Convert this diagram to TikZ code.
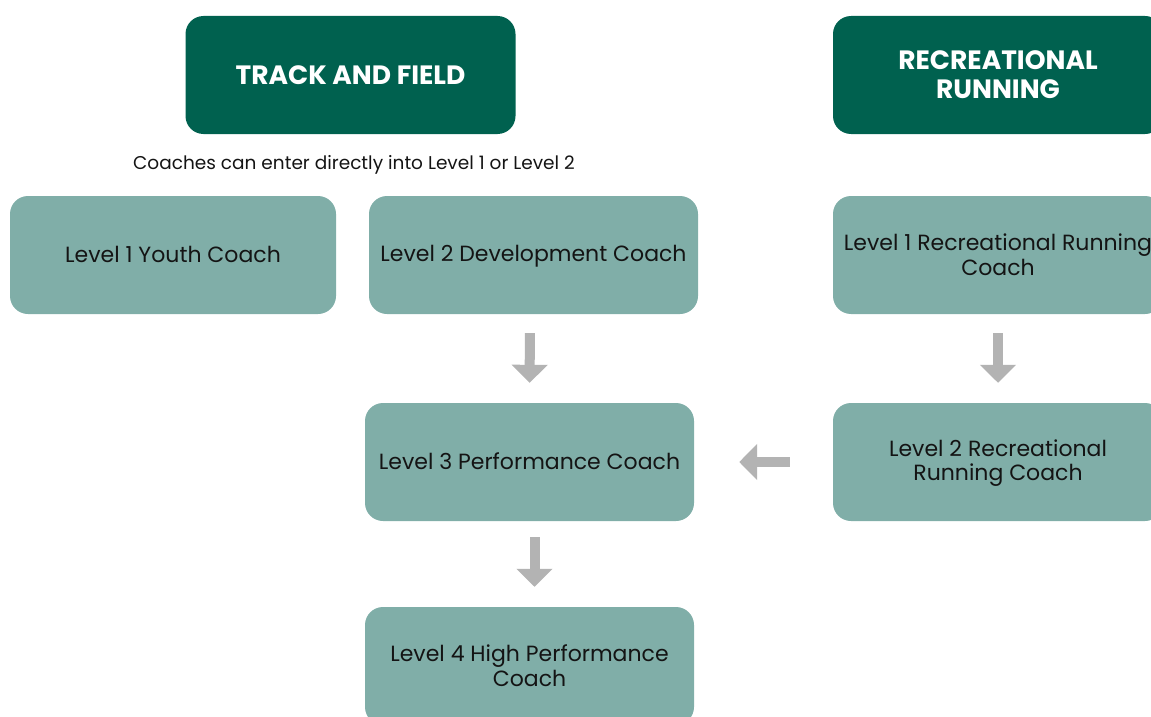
\documentclass[tikz,border=0pt]{standalone}
\usepackage{fontspec}
\setmainfont{Poppins}
\usetikzlibrary{arrows.meta}
\definecolor{dkgreen}{HTML}{00614F}
\definecolor{ltgreen}{HTML}{80AEA8}
\definecolor{arrowgray}{HTML}{B3B3B3}
\definecolor{txt}{HTML}{141414}
\newcommand\ls{\rule[-3pt]{0pt}{21.5pt}}
\newcommand\hs{\rule[-3pt]{0pt}{25pt}}
\newcommand\ns{\rule[-2pt]{0pt}{17pt}}
\tikzset{
  header/.style={fill=dkgreen, rounded corners=18pt, minimum width=330pt, minimum height=118pt,
    text=white, font=\fontsize{26.5}{29}\selectfont\bfseries, align=center, inner sep=0pt},
  levelbox/.style={fill=ltgreen, rounded corners=18pt, minimum height=118pt,
    text=txt, font=\fontsize{22}{24}\selectfont, align=center, inner sep=0pt},
  fatarrow/.style={draw=arrowgray, line width=10pt, -{Triangle[width=35pt,length=18pt]}}
}
\begin{document}
\begin{tikzpicture}[x=1pt,y=1pt]
\useasboundingbox (0,0) rectangle (1151,-717);
\clip (0,0) rectangle (1151,-717);
\node[header] (tf) at (350.5,-75) {\hs TRACK AND FIELD};
\node[header] (rr) at (998,-75) {\hs RECREATIONAL\\\hs RUNNING};
\node[font=\fontsize{18.5}{22}\selectfont, text=txt, inner sep=0pt] (note) at (354,-164) {\ns Coaches can enter directly into Level 1 or Level 2};
\node[levelbox, minimum width=326pt] (l1y) at (173,-255) {\ls Level 1 Youth Coach};
\node[levelbox, minimum width=329pt] (l2d) at (533.5,-255) {\ls Level 2 Development Coach};
\node[levelbox, minimum width=330pt] (l1r) at (998,-255) {\ls Level 1 Recreational Running\\\ls Coach};
\node[levelbox, minimum width=329pt] (l3) at (529.5,-462) {\ls Level 3 Performance Coach};
\node[levelbox, minimum width=330pt] (l2r) at (998,-462) {\ls Level 2 Recreational\\\ls Running Coach};
\node[levelbox, minimum width=329pt] (l4) at (529.5,-666) {\ls Level 4 High Performance\\\ls Coach};
\draw[fatarrow, shorten <=19pt, shorten >=20pt] ([xshift=-3.5pt]l2d.south) -- (l3.north);
\draw[fatarrow, shorten <=16pt, shorten >=20pt] ([xshift=5pt]l3.south) -- ([xshift=5pt]l4.north);
\draw[fatarrow, shorten <=43pt, shorten >=45pt] (l2r.west) -- (l3.east);
\draw[fatarrow, shorten <=19pt, shorten >=20pt] (l1r.south) -- (l2r.north);
\end{tikzpicture}
\end{document}
